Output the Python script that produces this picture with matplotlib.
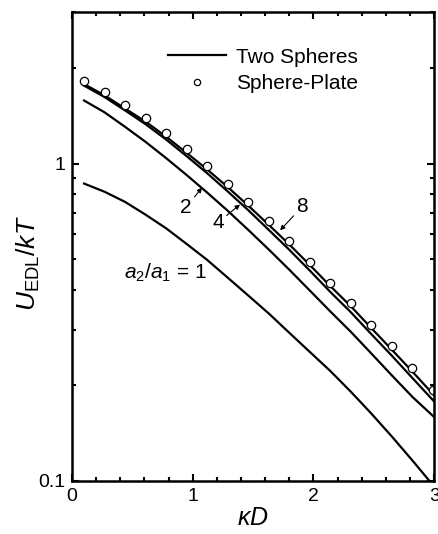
import numpy as np
import matplotlib
matplotlib.use('Agg')
import matplotlib.pyplot as plt
from matplotlib.ticker import LogLocator, NullFormatter, FixedLocator, FixedFormatter

plt.rcParams['font.family'] = ['Liberation Sans', 'DejaVu Sans']
plt.rcParams['mathtext.fontset'] = 'custom'
plt.rcParams['mathtext.rm'] = 'Liberation Sans'
plt.rcParams['mathtext.it'] = 'Liberation Sans:italic'

# kappa*D grid for the two-sphere curves
kd = [0.1, 0.27, 0.44, 0.61, 0.78, 0.95, 1.12, 1.29, 1.46, 1.63,
      1.80, 1.97, 2.14, 2.31, 2.48, 2.65, 2.82, 3.0]

# U_EDL/kT for each size ratio a2/a1
u_ratio1 = [0.865, 0.815, 0.757, 0.69, 0.625, 0.558, 0.497, 0.437, 0.384, 0.337,
            0.293, 0.255, 0.222, 0.191, 0.163, 0.138, 0.116, 0.096]
u_ratio2 = [1.58, 1.45, 1.305, 1.17, 1.04, 0.92, 0.81, 0.71, 0.618, 0.536,
            0.463, 0.398, 0.342, 0.295, 0.252, 0.215, 0.184, 0.159]
u_ratio4 = [1.76, 1.62, 1.47, 1.33, 1.19, 1.055, 0.932, 0.817, 0.713, 0.618,
            0.535, 0.46, 0.394, 0.34, 0.29, 0.248, 0.211, 0.178]
u_ratio8 = [1.78, 1.64, 1.49, 1.355, 1.215, 1.08, 0.958, 0.843, 0.737, 0.641,
            0.556, 0.479, 0.411, 0.355, 0.303, 0.259, 0.221, 0.186]

# sphere-plate limit
kd_plate = [0.1, 0.27, 0.44, 0.61, 0.78, 0.95, 1.12, 1.29, 1.46, 1.63,
            1.80, 1.97, 2.14, 2.31, 2.48, 2.65, 2.82, 2.99]
u_plate = [1.82, 1.68, 1.53, 1.39, 1.245, 1.11, 0.983, 0.865, 0.756, 0.657,
           0.570, 0.491, 0.421, 0.364, 0.311, 0.266, 0.227, 0.193]

fig = plt.figure(figsize=(4.39, 5.34), dpi=100)
ax = fig.add_axes([0.164, 0.0993, 0.825, 0.878])

lw = 1.6
ax.plot(kd, u_ratio1, color='k', lw=lw)
ax.plot(kd, u_ratio2, color='k', lw=lw)
ax.plot(kd, u_ratio4, color='k', lw=lw)
ax.plot(kd, u_ratio8, color='k', lw=lw, label='Two Spheres')
ax.plot(kd_plate, u_plate, ls='none', marker='o', ms=6, mfc='white',
        mec='k', mew=0.9, label='Sphere-Plate')

ax.set_yscale('log')
ax.set_xlim(0, 3)
ax.set_ylim(0.1, 3)

ax.xaxis.set_major_locator(FixedLocator([0, 1, 2, 3]))
ax.xaxis.set_minor_locator(FixedLocator(np.arange(0, 3.01, 0.2)))
ax.yaxis.set_major_locator(FixedLocator([0.1, 1]))
ax.yaxis.set_major_formatter(FixedFormatter(['0.1', '1']))
ax.yaxis.set_minor_locator(LogLocator(base=10, subs=np.arange(2, 10)))
ax.yaxis.set_minor_formatter(NullFormatter())

ax.tick_params(which='both', direction='in', top=True, right=True,
               labelsize=14, width=1.5, pad=5)
ax.tick_params(which='major', length=5)
ax.tick_params(which='minor', length=3)
for s in ax.spines.values():
    s.set_linewidth(1.8)

ax.set_xlabel(r'$\kappa D$', fontsize=18, labelpad=1)
ax.set_ylabel(r'$U_{\mathrm{EDL}}/kT$', fontsize=19, labelpad=1)
ax.yaxis.set_label_coords(-0.082, 0.465)

leg = ax.legend(loc='upper left', bbox_to_anchor=(0.265, 0.924), frameon=False,
                fontsize=15, handlelength=2.8, handletextpad=0.45,
                labelspacing=0.35, numpoints=1, markerscale=0.75,
                borderpad=0, borderaxespad=0)

arrow = dict(arrowstyle='-|>', color='k', lw=0.8, mutation_scale=7,
             shrinkA=0, shrinkB=0)
ax.annotate('2', xy=(1.077, 0.84), xytext=(0.945, 0.727), fontsize=15,
            ha='center', va='center', arrowprops=arrow)
ax.annotate('4', xy=(1.392, 0.743), xytext=(1.21, 0.652), fontsize=15,
            ha='center', va='center', arrowprops=arrow)
ax.annotate('8', xy=(1.724, 0.616), xytext=(1.906, 0.732), fontsize=15,
            ha='center', va='center', arrowprops=arrow)
ax.text(0.43, 0.451, r'$a_2/a_1$ = 1', fontsize=15, ha='left', va='center')

fig.savefig('out.png', dpi=100)
